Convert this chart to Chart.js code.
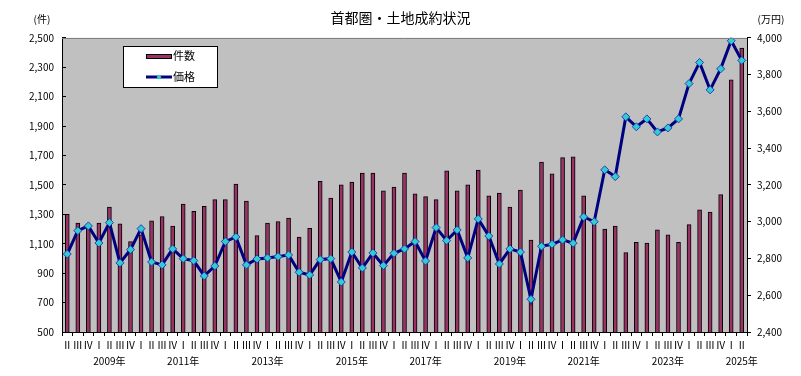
<!DOCTYPE html>
<html>
<head>
<meta charset="utf-8">
<script src="https://cdn.jsdelivr.net/npm/chart.js@4/dist/chart.umd.min.js"></script>
<style>
html,body{margin:0;padding:0;background:#fff;}
#wrap{width:801px;height:376px;}
</style>
</head>
<body>
<div id="wrap"><canvas id="c" width="801" height="376"></canvas></div>
<script>
// Quarter labels: 2009 Q2 ... 2025 Q2 (65 quarters)
const quarterLabels = [
  'Ⅱ','Ⅲ','Ⅳ',
  'Ⅰ','Ⅱ','Ⅲ','Ⅳ', 'Ⅰ','Ⅱ','Ⅲ','Ⅳ', 'Ⅰ','Ⅱ','Ⅲ','Ⅳ', 'Ⅰ','Ⅱ','Ⅲ','Ⅳ',
  'Ⅰ','Ⅱ','Ⅲ','Ⅳ', 'Ⅰ','Ⅱ','Ⅲ','Ⅳ', 'Ⅰ','Ⅱ','Ⅲ','Ⅳ', 'Ⅰ','Ⅱ','Ⅲ','Ⅳ',
  'Ⅰ','Ⅱ','Ⅲ','Ⅳ', 'Ⅰ','Ⅱ','Ⅲ','Ⅳ', 'Ⅰ','Ⅱ','Ⅲ','Ⅳ', 'Ⅰ','Ⅱ','Ⅲ','Ⅳ',
  'Ⅰ','Ⅱ','Ⅲ','Ⅳ', 'Ⅰ','Ⅱ','Ⅲ','Ⅳ', 'Ⅰ','Ⅱ','Ⅲ','Ⅳ',
  'Ⅰ','Ⅱ'
];
// Year labels as placed under the quarter row in the reference
const yearLabels = [
  '','','','','2009年','','','','','','',
  '2011年','','','','','','','',
  '2013年','','','','','','','',
  '2015年','','','','','','',
  '2017年','','','','','','','',
  '2019年','','','','','','',
  '2021年','','','','','','','',
  '2023年','','','','','','',
  '2025年'
];
// 件数 (left axis)
const counts = [
  1300,1240,1230,
  1240,1350,1235,1115, 1160,1255,1285,1220, 1370,1320,1355,1400, 1400,1505,1390,1155,
  1240,1250,1275,1145, 1205,1525,1410,1500, 1520,1580,1580,1460, 1485,1580,1440,1420,
  1400,1595,1460,1500, 1600,1425,1445,1350, 1465,1125,1655,1575, 1685,1690,1425,1230,
  1200,1220,1040,1110, 1105,1195,1160,1110, 1230,1330,1315,1435, 2215,2430
];
// 価格 (right axis, 万円)
const prices = [
  2824,2951,2977,
  2884,2995,2776,2848, 2962,2781,2765,2852, 2799,2788,2705,2759, 2892,2917,2765,2797,
  2803,2810,2819,2725, 2710,2794,2799,2672, 2835,2748,2830,2761, 2828,2852,2892,2786,
  2968,2897,2955,2803, 3015,2922,2770,2852, 2835,2578,2866,2877, 2901,2883,3026,3000,
  3282,3245,3570,3516, 3559,3488,3510,3559, 3751,3866,3717,3831, 3984,3877
];
const seriesNames = ['件数','価格'];
const titleText = '首都圏・土地成約状況';
const leftUnit = '(件)';
const rightUnit = '(万円)';

const FONT = '"Noto Sans CJK JP", "Noto Sans", sans-serif';

const decor = {
  id: 'decor',
  beforeDraw(chart) {
    const {ctx, chartArea: a} = chart;
    ctx.save();
    ctx.fillStyle = '#ffffff';
    ctx.fillRect(0, 0, chart.width, chart.height);
    ctx.fillStyle = '#C0C0C0';
    ctx.fillRect(a.left, a.top, a.right - a.left, a.bottom - a.top);
    ctx.restore();
  },
  afterDraw(chart) {
    const {ctx, chartArea: a} = chart;
    ctx.save();
    ctx.strokeStyle = '#808080';
    ctx.lineWidth = 1;
    ctx.beginPath();
    ctx.moveTo(a.left, Math.round(a.top) + 0.5);
    ctx.lineTo(a.right, Math.round(a.top) + 0.5);
    ctx.stroke();

    ctx.fillStyle = '#000';
    ctx.font = '10px ' + FONT;
    ctx.textBaseline = 'middle';
    ctx.textAlign = 'center';
    ctx.fillText(leftUnit, 42, 19);
    ctx.fillText(rightUnit, 771, 19);

    // legend box
    const ds = chart.data.datasets;
    const barDs = ds.find(d => d.type === 'bar');
    const lineDs = ds.find(d => d.type === 'line');
    const bx = 123.5, by = 46.5, bw = 94, bh = 41;
    ctx.fillStyle = '#ffffff';
    ctx.fillRect(bx, by, bw, bh);
    ctx.strokeStyle = '#000';
    ctx.lineWidth = 1;
    ctx.strokeRect(bx, by, bw, bh);
    // bar swatch
    ctx.fillStyle = barDs.backgroundColor;
    ctx.fillRect(146.5, 54.5, 25, 4);
    ctx.strokeStyle = barDs.borderColor;
    ctx.strokeRect(146.5, 54.5, 25, 4);
    // line swatch
    ctx.strokeStyle = lineDs.borderColor;
    ctx.lineWidth = 3;
    ctx.beginPath();
    ctx.moveTo(146, 77);
    ctx.lineTo(172, 77);
    ctx.stroke();
    ctx.fillStyle = lineDs.pointBackgroundColor;
    ctx.beginPath();
    ctx.moveTo(159, 74.5); ctx.lineTo(161.5, 77); ctx.lineTo(159, 79.5); ctx.lineTo(156.5, 77);
    ctx.closePath();
    ctx.fill();
    ctx.fillStyle = '#000';
    ctx.font = '11px ' + FONT;
    ctx.textAlign = 'left';
    ctx.fillText(barDs.label, 173, 56);
    ctx.fillText(lineDs.label, 173, 77);
    ctx.restore();
  }
};

new Chart(document.getElementById('c'), {
  data: {
    labels: quarterLabels.map((q, i) => [q, yearLabels[i] || '']),
    datasets: [
      {
        type: 'line',
        label: seriesNames[1],
        data: prices,
        yAxisID: 'y1',
        borderColor: '#000080',
        borderWidth: 3,
        tension: 0,
        pointStyle: 'rectRot',
        pointRadius: 4,
        pointBackgroundColor: '#33CCCC',
        pointBorderColor: '#2040C0',
        pointBorderWidth: 1,
        order: 0
      },
      {
        type: 'bar',
        label: seriesNames[0],
        data: counts,
        yAxisID: 'y',
        backgroundColor: '#993366',
        borderColor: '#000000',
        borderWidth: 1,
        barThickness: 4,
        order: 1
      }
    ]
  },
  options: {
    responsive: false,
    animation: false,
    devicePixelRatio: 1,
    layout: { padding: 0 },
    plugins: {
      legend: { display: false },
      tooltip: { enabled: false },
      title: {
        display: true,
        text: titleText,
        color: '#000',
        font: { family: FONT, size: 14, weight: 'normal' },
        padding: { top: 9, bottom: 12 }
      }
    },
    scales: {
      x: {
        type: 'category',
        offset: true,
        grid: { display: true, drawOnChartArea: false, drawTicks: true, tickLength: 4, color: '#000', offset: true },
        border: { display: true, color: '#000', width: 1 },
        ticks: {
          autoSkip: false, maxRotation: 0, minRotation: 0, padding: 1, color: '#000',
          font: { family: FONT, size: 10, lineHeight: 1.6 }
        },
        afterFit(s) { s.height = 44; }
      },
      y: {
        position: 'left',
        min: 500, max: 2500,
        grid: { drawOnChartArea: false, drawTicks: true, tickLength: -4, color: '#000' },
        border: { display: true, color: '#000', width: 1 },
        ticks: {
          stepSize: 200, padding: 12, color: '#000',
          font: { family: FONT, size: 10 },
          callback: v => v.toLocaleString('en-US')
        },
        afterFit(s) { s.width = 62; }
      },
      y1: {
        position: 'right',
        min: 2400, max: 4000,
        grid: { drawOnChartArea: false, drawTicks: true, tickLength: 4, color: '#000' },
        border: { display: true, color: '#000', width: 1 },
        ticks: {
          stepSize: 200, padding: 6, color: '#000',
          font: { family: FONT, size: 10 },
          callback: v => v.toLocaleString('en-US')
        },
        afterFit(s) { s.width = 54; }
      }
    }
  },
  plugins: [decor]
});
</script>
</body>
</html>
